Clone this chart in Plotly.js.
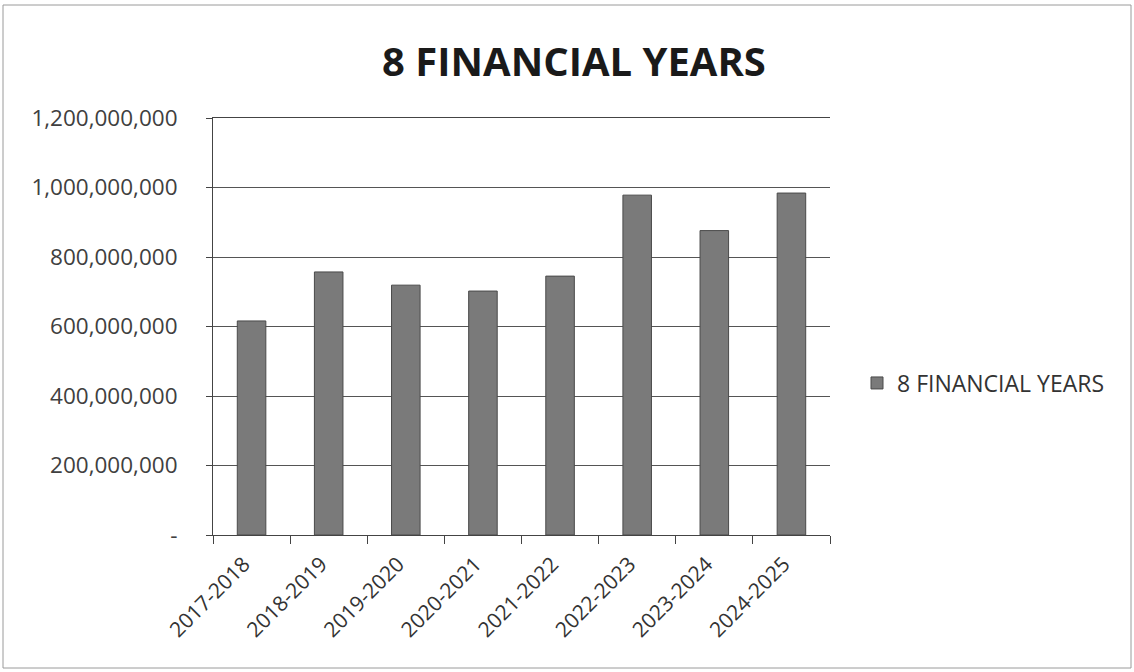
<!DOCTYPE html>
<html>
<head>
<meta charset="utf-8">
<script src="https://cdn.plot.ly/plotly-3.0.1.min.js"></script>
<style>
html,body{margin:0;padding:0;background:#fff;}
#chart{width:1134px;height:672px;}
</style>
</head>
<body>
<div id="chart"></div>
<script>
var categories = ["2017-2018","2018-2019","2019-2020","2020-2021","2021-2022","2022-2023","2023-2024","2024-2025"];
var values = [616000000, 757000000, 719000000, 702000000, 745000000, 978000000, 876000000, 984000000];
var seriesName = "8 FINANCIAL YEARS";
var yTickVals = [0, 200000000, 400000000, 600000000, 800000000, 1000000000, 1200000000];
var yTickText = ["-", "200,000,000", "400,000,000", "600,000,000", "800,000,000", "1,000,000,000", "1,200,000,000"];

var W = 1134, H = 672;
var L = 213, R = 304, T = 118, B = 137;
var pw = W - L - R, ph = H - T - B;
function px(x){ return (x - L) / pw; }
function py(y){ return (H - B - y) / ph; }

var trace = {
  type: 'bar',
  x: categories,
  y: values,
  name: seriesName,
  showlegend: true,
  marker: {color: '#7a7a7a', line: {color: '#4a4a4a', width: 1}}
};

var layout = {
  width: W, height: H,
  margin: {l: L, r: R, t: T, b: B, pad: 0},
  paper_bgcolor: '#ffffff',
  plot_bgcolor: '#ffffff',
  font: {family: 'Open Sans, sans-serif', color: '#404040', size: 16},
  title: {
    text: '<b>8 FINANCIAL YEARS</b>',
    font: {family: 'Open Sans, sans-serif', size: 40, color: '#1a1a1a'},
    x: 574 / W, xref: 'container', xanchor: 'center',
    y: 1 - 62 / H, yref: 'container', yanchor: 'middle'
  },
  bargap: 0.63,
  showlegend: true,
  legend: {
    x: px(857), y: py(383), xanchor: 'left', yanchor: 'middle',
    font: {size: 23, color: '#333333'},
    bgcolor: 'rgba(0,0,0,0)'
  },
  xaxis: {
    type: 'category',
    tickangle: -45,
    tickson: 'boundaries',
    tickvals: categories,
    ticktext: categories.map(function(c){ return c + '\u00a0\u00a0'; }),
    ticks: 'outside', ticklen: 8, tickcolor: '#444', tickwidth: 1,
    showline: true, linecolor: '#444', linewidth: 1,
    mirror: true,
    showgrid: false,
    tickfont: {size: 21, color: '#333333'}
  },
  yaxis: {
    range: [0, 1200000000],
    tickvals: yTickVals,
    ticktext: yTickText,
    ticks: 'outside', ticklen: 6, tickcolor: '#444', tickwidth: 1,
    showline: true, linecolor: '#444', linewidth: 1,
    showgrid: true, gridcolor: '#555555', gridwidth: 1,
    zeroline: false,
    ticklabelstandoff: 24,
    tickfont: {size: 22.5, color: '#404040'}
  },
  shapes: [{
    type: 'rect', xref: 'paper', yref: 'paper',
    x0: px(3), x1: px(1131), y0: py(668), y1: py(5),
    line: {color: '#9a9a9a', width: 1}, fillcolor: 'rgba(0,0,0,0)', layer: 'below'
  }]
};

Plotly.newPlot('chart', [trace], layout, {staticPlot: true, displayModeBar: false});
</script>
</body>
</html>
